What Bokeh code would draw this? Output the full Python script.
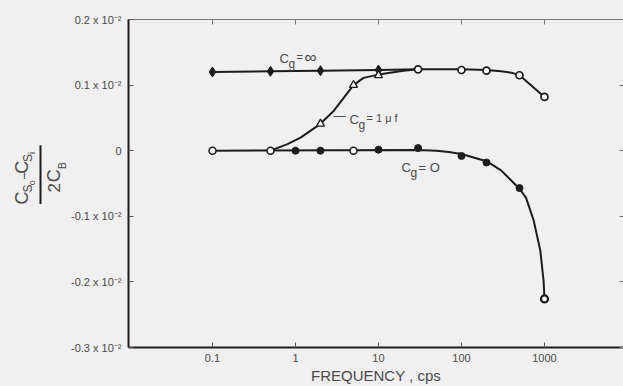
import math
from bokeh.plotting import figure
from bokeh.layouts import row
from bokeh.core.properties import value
from bokeh.models import Range1d, LogAxis, LinearAxis, FixedTicker, Label
from bokeh.embed import file_html
from bokeh.resources import INLINE

# ---------------- data (values in units of 10^-2) ----------------
x_ticks = [0.1, 1, 10, 100, 1000]
x_tick_labels = ["0.1", "1", "10", "100", "1000"]
y_ticks = [-0.3, -0.2, -0.1, 0, 0.1, 0.2]
y_tick_labels = ["-0.3 x 10⁻²", "-0.2 x 10⁻²", "-0.1 x 10⁻²", "0", "0.1 x 10⁻²", "0.2 x 10⁻²"]
x_title = "FREQUENCY , cps"

# Cg = infinity : filled diamonds
inf_freq = [0.1, 0.5, 2, 10]
inf_val = [0.120, 0.121, 0.122, 0.123]
# shared open markers at high frequency (Cg = inf and Cg = 1 uf)
high_freq = [30, 100, 200, 500, 1000]
high_val = [0.124, 0.123, 0.122, 0.115, 0.082]
# Cg = 1 uf : open triangles
uf_freq = [2, 5, 10]
uf_val = [0.041, 0.100, 0.115]
# open circles at zero
open0_freq = [0.1, 0.5, 5]
open0_val = [0.0, 0.0, 0.0]
# Cg = 0 : filled circles
zero_freq = [1, 2, 10, 30, 100, 200, 500]
zero_val = [0.0, 0.0, 0.0015, 0.004, -0.008, -0.018, -0.057]
zero_end_freq = [1000]
zero_end_val = [-0.226]

# drawn curves
curve_inf_freq = [0.1, 0.5, 2, 10, 30, 100, 200, 300, 400, 500, 1000]
curve_inf_val = [0.120, 0.121, 0.122, 0.123, 0.124, 0.124, 0.123, 0.121, 0.119, 0.115, 0.082]
curve_uf_freq = [0.5, 0.6, 0.8, 1.15, 2, 2.9, 5, 6.6, 10, 20, 30]
curve_uf_val = [0.0, 0.004, 0.010, 0.020, 0.041, 0.061, 0.100, 0.111, 0.116, 0.122, 0.124]
curve_zero_freq = [0.1, 30, 50, 70, 100, 200, 300, 500, 600, 740, 890, 975, 1000]
curve_zero_val = [0.0, 0.001, 0.0, -0.002, -0.005, -0.016, -0.030, -0.058, -0.072, -0.106,
                  -0.152, -0.198, -0.226]

# ---------------- style ----------------
BG = "#f0f0f0"
INK = "#1c1c1c"
TXT = "#4a4a4a"
FONT = "Liberation Sans"
TITLE_W = 68

p = figure(width=623 - TITLE_W, height=386, x_axis_type="log",
           x_range=Range1d(10 ** -2.012, 10 ** 3.952), y_range=Range1d(-0.3, 0.2),
           output_backend="svg", toolbar_location=None,
           min_border_left=128 - TITLE_W, min_border_right=0, min_border_top=19,
           min_border_bottom=39,
           background_fill_color=BG, border_fill_color=BG, outline_line_color=None)
p.grid.visible = False

# bottom axis
xa = p.xaxis[0]
xa.ticker = FixedTicker(ticks=x_ticks)
xa.major_label_overrides = {t: l for t, l in zip(x_ticks, x_tick_labels)}
xa.major_tick_in = 5
xa.major_tick_out = 0
xa.minor_tick_line_color = None
xa.axis_line_width = 2
xa.axis_line_color = INK
xa.major_tick_line_color = "#555"
xa.major_label_text_font = FONT
xa.major_label_text_font_size = "11px"
xa.major_label_text_color = TXT
xa.major_label_standoff = 6
xa.axis_label = x_title
xa.axis_label_text_font = FONT
xa.axis_label_text_font_style = "normal"
xa.axis_label_text_font_size = "15px"
xa.axis_label_text_color = TXT
xa.axis_label_standoff = 2

# left axis
ya = p.yaxis[0]
ya.ticker = FixedTicker(ticks=y_ticks)
ya.major_label_overrides = {t: l for t, l in zip(y_ticks, y_tick_labels)}
ya.major_tick_in = 5
ya.major_tick_out = 0
ya.minor_tick_line_color = None
ya.axis_line_width = 2
ya.axis_line_color = INK
ya.major_tick_line_color = "#555"
ya.major_label_text_font = FONT
ya.major_label_text_font_size = "11px"
ya.major_label_text_color = TXT
ya.major_label_standoff = 7

# top axis (ticks only)
ta = LogAxis(ticker=FixedTicker(ticks=x_ticks), major_label_text_font_size="0px",
             major_label_standoff=0, major_tick_in=5, major_tick_out=0,
             minor_tick_line_color=None, axis_line_color="#777", axis_line_width=1,
             major_tick_line_color="#777")
ta.major_label_overrides = {t: "" for t in x_ticks}
p.add_layout(ta, "above")

# right axis (ticks only)
ra = LinearAxis(ticker=FixedTicker(ticks=y_ticks), major_label_text_font_size="0px",
                major_label_standoff=0, major_tick_in=4, major_tick_out=0,
                minor_tick_line_color=None, axis_line_color=None,
                major_tick_line_color="#777")
ra.major_label_overrides = {t: "" for t in y_ticks}
p.add_layout(ra, "right")

# curves
for fx, fy in [(curve_inf_freq, curve_inf_val), (curve_uf_freq, curve_uf_val),
               (curve_zero_freq, curve_zero_val)]:
    p.line(fx, fy, line_color=INK, line_width=2, line_join="round")

# markers
p.scatter(inf_freq, inf_val, marker="diamond", size=10, fill_color=INK, line_color=INK)
p.scatter(zero_freq, zero_val, marker="circle", size=7, fill_color=INK, line_color=INK)
p.scatter(uf_freq, uf_val, marker="triangle", size=8, fill_color=BG, line_color=INK, line_width=1.3)
p.scatter(open0_freq, open0_val, marker="circle", size=7, fill_color="white", line_color=INK, line_width=1.5)
p.scatter(high_freq, high_val, marker="circle", size=7, fill_color="white", line_color=INK, line_width=1.7)
p.scatter(zero_end_freq, zero_end_val, marker="circle", size=7, fill_color="white", line_color=INK, line_width=2.2)


def lab(x, y, text, size, dx=0, dy=0):
    p.add_layout(Label(x=x, y=y, x_offset=dx, y_offset=dy, text=text,
                       text_align="left", text_baseline="alphabetic",
                       text_font_size=f"{size}px", text_color=TXT, text_font=FONT))


# curve labels (anchored at the "C" of each label)
lab(0.64, 0.140, "C", 13)
lab(0.64, 0.140, "g", 12, dx=9, dy=-5)
lab(0.64, 0.140, "=", 11, dx=17, dy=2)
lab(0.64, 0.140, "∞", 17, dx=25, dy=1)

lab(4.48, 0.047, "—", 12, dx=-16, dy=4)
lab(4.48, 0.047, "C", 13)
lab(4.48, 0.047, "g", 12, dx=9, dy=-5)
lab(4.48, 0.047, "= 1 μ f", 11, dx=17, dy=2)

lab(18.9, -0.026, "C", 13)
lab(18.9, -0.026, "g", 12, dx=9, dy=-5)
lab(18.9, -0.026, "= O", 13, dx=17, dy=0)

# ---------------- y axis title: a rotated fraction in its own panel ----------------
t = figure(width=TITLE_W, height=386, x_range=Range1d(0, TITLE_W), y_range=Range1d(386, 0),
           output_backend="svg", toolbar_location=None,
           min_border_left=0, min_border_right=0, min_border_top=0, min_border_bottom=0,
           background_fill_color=BG, border_fill_color=BG, outline_line_color=None)
t.axis.visible = False
t.grid.visible = False

# pieces of  C_{S_o} - C_{S_i}  over  2 C_B  (reading upward)
title_pieces = [
    (21, 210, "C", 18), (27, 199, "S", 12), (31, 192, "o", 9), (23, 184, "−", 14),
    (21, 174, "C", 18), (27, 163, "S", 12), (31, 157, "i", 9),
    (53, 198, "2", 17), (53, 184, "C", 18), (62, 172, "B", 10),
]
for X, Y, s, fs in title_pieces:
    t.text(x=[X], y=[Y], text=[s], angle=math.pi / 2, text_align="center",
           text_baseline="middle", text_font_size=value(f"{fs}px"), text_color=TXT,
           text_font=value(FONT))
t.segment(x0=[40], y0=[148], x1=[40], y1=[217], line_color=INK, line_width=2)

layout = row(t, p, spacing=0, styles={"background-color": BG})
open("out.html", "w").write(file_html(layout, INLINE))
